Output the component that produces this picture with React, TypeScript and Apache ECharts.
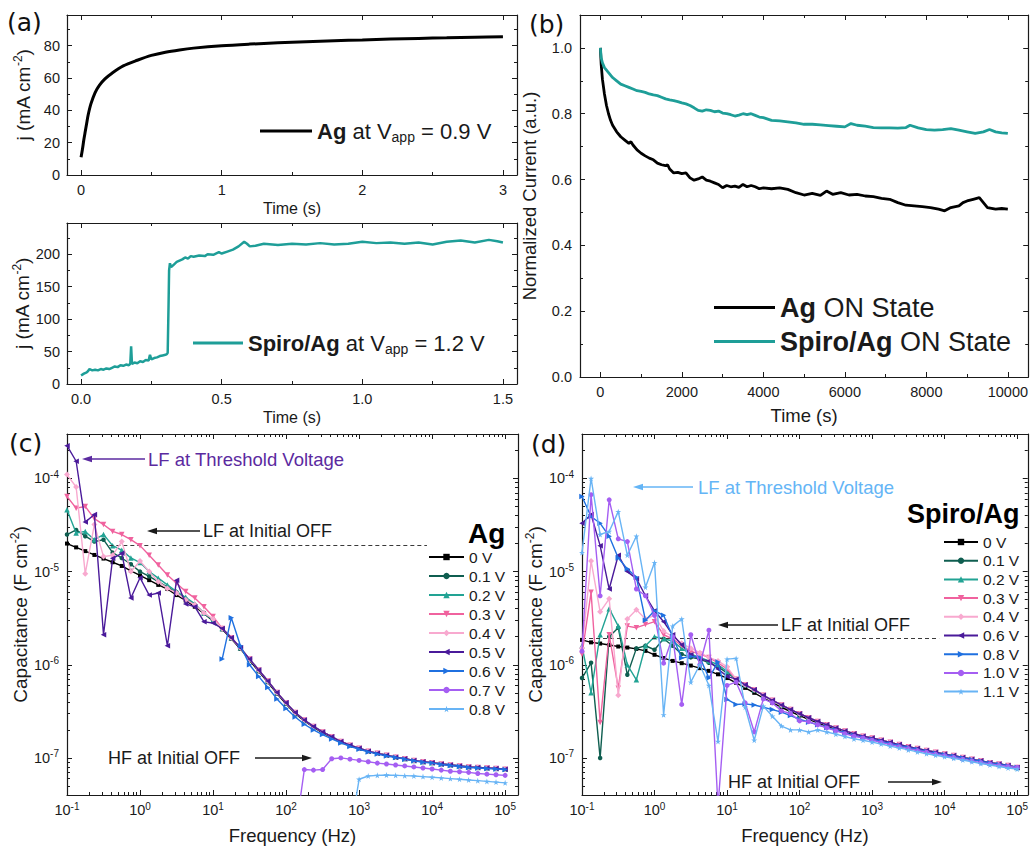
import React, { useEffect, useRef } from 'react';
import * as echarts from 'echarts';

// ---------------- (a) transient current density ----------------
const agTime = [0, 0.005, 0.01, 0.02, 0.03, 0.04, 0.05, 0.07, 0.1, 0.13, 0.17, 0.22, 0.3, 0.4, 0.5, 0.6, 0.7, 0.8, 1.0, 1.2, 1.4, 1.6, 1.8, 2.0, 2.2, 2.4, 2.6, 2.8, 3.0];
const agJ = [11, 13.5, 16, 22, 27, 32, 37, 44, 51, 55.5, 59.5, 63, 67.5, 71, 74, 76, 77.4, 78.5, 80, 81, 81.8, 82.5, 83.1, 83.6, 84.1, 84.5, 84.9, 85.3, 85.6];

const spiroTime = [0, 0.01, 0.02, 0.025, 0.03, 0.04, 0.05, 0.06, 0.07, 0.08, 0.09, 0.1, 0.11, 0.12, 0.13, 0.14, 0.15, 0.16, 0.17, 0.175, 0.178, 0.181, 0.19, 0.2, 0.21, 0.22, 0.23, 0.24, 0.245, 0.25, 0.26, 0.27, 0.28, 0.29, 0.3, 0.305, 0.308, 0.311, 0.313, 0.316, 0.32, 0.33, 0.34, 0.35, 0.36, 0.37, 0.38, 0.39, 0.4, 0.42, 0.44, 0.45, 0.47, 0.49, 0.5, 0.52, 0.54, 0.56, 0.58, 0.59, 0.6, 0.62, 0.65, 0.7, 0.75, 0.8, 0.85, 0.9, 0.95, 1.0, 1.05, 1.1, 1.15, 1.2, 1.25, 1.3, 1.35, 1.4, 1.45, 1.48, 1.5];
const spiroJ = [13, 16, 18, 20, 23, 21, 22, 21, 23, 22, 24, 23, 25, 27, 26, 29, 28, 30, 29, 31, 58, 31, 33, 32, 35, 34, 37, 36, 45, 38, 40, 41, 43, 44, 45, 46, 48, 120, 175, 186, 180, 184, 188, 190, 192, 195, 193, 197, 196, 198, 197, 200, 199, 203, 201, 204, 207, 212, 219, 216, 212, 213, 216, 214, 216, 215, 217, 215, 216, 219, 217, 218, 216, 218, 215, 219, 221, 218, 222, 220, 218];

// ---------------- (b) ON-state retention ----------------
const agOnTime = [0, 20, 50, 100, 150, 200, 250, 300, 400, 500, 600, 700, 750, 800, 900, 1000, 1100, 1200, 1300, 1400, 1500, 1600, 1650, 1700, 1800, 1900, 2000, 2100, 2200, 2300, 2400, 2500, 2600, 2700, 2800, 2900, 3000, 3100, 3200, 3300, 3400, 3500, 3600, 3700, 3800, 3900, 4000, 4200, 4400, 4600, 4800, 5000, 5200, 5400, 5550, 5700, 5900, 6100, 6300, 6500, 6700, 6900, 7100, 7300, 7500, 7700, 7900, 8100, 8300, 8450, 8600, 8800, 8900, 9000, 9150, 9300, 9400, 9500, 9700, 9850, 10000];
const agOnCurrent = [1.0, 0.95, 0.905, 0.86, 0.825, 0.80, 0.78, 0.765, 0.745, 0.73, 0.72, 0.71, 0.715, 0.705, 0.69, 0.68, 0.672, 0.665, 0.66, 0.65, 0.645, 0.642, 0.645, 0.632, 0.62, 0.622, 0.618, 0.62, 0.605, 0.598, 0.602, 0.608, 0.598, 0.595, 0.59, 0.585, 0.575, 0.582, 0.578, 0.58, 0.576, 0.585, 0.578, 0.582, 0.578, 0.572, 0.575, 0.572, 0.575, 0.57, 0.56, 0.553, 0.558, 0.552, 0.565, 0.555, 0.56, 0.553, 0.555, 0.55, 0.548, 0.543, 0.54, 0.53, 0.522, 0.52, 0.518, 0.515, 0.51, 0.505, 0.515, 0.52, 0.53, 0.535, 0.54, 0.545, 0.53, 0.515, 0.51, 0.512, 0.51];
const spiroOnTime = [0, 20, 50, 100, 200, 300, 400, 500, 600, 700, 800, 900, 1000, 1100, 1200, 1300, 1400, 1500, 1600, 1700, 1800, 1900, 2000, 2100, 2200, 2300, 2400, 2500, 2600, 2700, 2800, 2900, 3000, 3100, 3200, 3300, 3400, 3500, 3600, 3700, 3800, 3900, 4000, 4200, 4400, 4600, 4800, 5000, 5200, 5400, 5600, 5800, 6000, 6150, 6300, 6500, 6700, 6900, 7100, 7300, 7500, 7600, 7800, 8000, 8200, 8400, 8600, 8800, 9000, 9200, 9400, 9550, 9700, 9850, 10000];
const spiroOnCurrent = [1.0, 0.97, 0.955, 0.94, 0.925, 0.91, 0.9, 0.89, 0.885, 0.88, 0.875, 0.87, 0.868, 0.865, 0.86, 0.857, 0.855, 0.85, 0.845, 0.842, 0.84, 0.837, 0.833, 0.83, 0.825, 0.818, 0.81, 0.808, 0.812, 0.81, 0.806, 0.808, 0.802, 0.80, 0.797, 0.793, 0.796, 0.80, 0.797, 0.80, 0.795, 0.79, 0.788, 0.78, 0.778, 0.775, 0.772, 0.768, 0.768, 0.766, 0.764, 0.762, 0.76, 0.77, 0.765, 0.762, 0.758, 0.757, 0.757, 0.756, 0.758, 0.765, 0.757, 0.752, 0.75, 0.752, 0.755, 0.75, 0.745, 0.74, 0.745, 0.752, 0.745, 0.742, 0.74];

// ---------------- (c)/(d) capacitance vs frequency ----------------
const freqHz = [0.1, 0.1334, 0.1778, 0.2371, 0.3162, 0.4217, 0.5623, 0.7499, 1, 1.334, 1.778, 2.371, 3.162, 4.217, 5.623, 7.499, 10, 13.34, 17.78, 23.71, 31.62, 42.17, 56.23, 74.99, 100, 133.4, 177.8, 237.1, 316.2, 421.7, 562.3, 749.9, 1000, 1334, 1778, 2371, 3162, 4217, 5623, 7499, 10000, 13340, 17780, 23710, 31620, 42170, 56230, 74990, 100000];

// (c) Ag
const capAg0 = [2.0e-5, 1.82e-5, 1.66e-5, 1.51e-5, 1.38e-5, 1.26e-5, 1.15e-5, 1.02e-5, 9.1e-6, 8.1e-6, 7.2e-6, 6.5e-6, 5.6e-6, 4.9e-6, 4.2e-6, 3.55e-6, 2.95e-6, 2.4e-6, 1.9e-6, 1.48e-6, 1.12e-6, 8.5e-7, 6.5e-7, 4.9e-7, 3.8e-7, 3.0e-7, 2.5e-7, 2.14e-7, 1.86e-7, 1.66e-7, 1.48e-7, 1.35e-7, 1.26e-7, 1.17e-7, 1.12e-7, 1.07e-7, 1.02e-7, 9.8e-8, 9.3e-8, 9.1e-8, 8.9e-8, 8.6e-8, 8.4e-8, 8.2e-8, 8.0e-8, 7.9e-8, 7.8e-8, 7.7e-8, 7.6e-8];
const capAgTail = [2.45e-6, 1.95e-6, 1.52e-6, 1.15e-6, 8.8e-7, 6.7e-7, 5.05e-7, 3.9e-7, 3.08e-7, 2.55e-7, 2.18e-7, 1.9e-7, 1.69e-7, 1.5e-7, 1.37e-7, 1.27e-7, 1.18e-7, 1.12e-7, 1.07e-7, 1.02e-7, 9.8e-8, 9.4e-8, 9.1e-8, 8.9e-8, 8.6e-8, 8.4e-8, 8.2e-8, 8.0e-8, 7.9e-8, 7.8e-8, 7.7e-8, 7.55e-8];
const capAg01Low = [2.5e-5, 2.8e-5, 2.4e-5, 2.1e-5, 2.2e-5, 1.6e-5, 1.4e-5, 1.2e-5, 1.0e-5, 8.9e-6, 7.8e-6, 6.8e-6, 6.0e-6, 5.1e-6, 4.4e-6, 3.6e-6, 3.0e-6];
const capAg02Low = [4.6e-5, 2.6e-5, 2.7e-5, 2.2e-5, 2.5e-5, 1.9e-5, 1.7e-5, 1.4e-5, 1.25e-5, 1.0e-5, 8.5e-6, 7.2e-6, 6.1e-6, 5.3e-6, 4.5e-6, 3.6e-6, 3.0e-6];
const capAg03Low = [6.4e-5, 4.8e-5, 5.0e-5, 3.7e-5, 3.2e-5, 2.7e-5, 2.5e-5, 2.2e-5, 1.9e-5, 1.5e-5, 1.18e-5, 9.2e-6, 7.5e-6, 6.1e-6, 5.2e-6, 4.2e-6, 3.3e-6];
const capAg04Low = [1.1e-4, 8.1e-5, 9.5e-6, 3.2e-5, 1.45e-5, 1.5e-5, 2.1e-5, 1.0e-5, 1.3e-5, 1.0e-5, 7.8e-6, 6.6e-6, 5.9e-6, 5.0e-6, 4.4e-6, 3.6e-6, 3.1e-6];
const capAg05Low = [2.25e-4, 1.53e-4, 3.4e-5, 4.1e-5, 2.1e-6, 1.39e-5, 1.57e-5, 5.2e-6, 8.6e-6, 5.6e-6, 5.9e-6, 1.6e-6, 8.1e-6, 4.5e-6, 4.2e-6, 2.9e-6, 2.8e-6];
const capAg06 = [null, null, null, null, null, null, null, null, null, null, null, null, null, null, null, null, null,
  1.15e-6, 3.2e-6, 1.6e-6, 1.0e-6, 7.5e-7, 5.7e-7, 4.3e-7, 3.4e-7, 2.75e-7, 2.3e-7, 2.0e-7, 1.78e-7, 1.6e-7, 1.45e-7, 1.33e-7, 1.24e-7, 1.16e-7, 1.1e-7, 1.05e-7, 1.01e-7, 9.7e-8, 9.3e-8, 9.0e-8, 8.8e-8, 8.5e-8, 8.3e-8, 8.1e-8, 7.9e-8, 7.8e-8, 7.7e-8, 7.6e-8, 7.5e-8];
const capAg07 = [null, null, null, null, null, null, null, null, null, null, null, null, null, null, null, null, null, null, null, null, null, null, null, null, null,
  1.5e-8, 7.5e-8, 7.4e-8, 7.5e-8, 9.8e-8, 1.0e-7, 9.7e-8, 9.4e-8, 9.1e-8, 8.8e-8, 8.6e-8, 8.4e-8, 8.2e-8, 8.0e-8, 7.8e-8, 7.6e-8, 7.4e-8, 7.2e-8, 7.1e-8, 7.0e-8, 6.8e-8, 6.7e-8, 6.6e-8, 6.5e-8];
const capAg08 = [null, null, null, null, null, null, null, null, null, null, null, null, null, null, null, null, null, null, null, null, null, null, null, null, null, null, null, null, null, null, null,
  1.5e-8, 5.9e-8, 6.4e-8, 6.5e-8, 6.55e-8, 6.5e-8, 6.45e-8, 6.4e-8, 6.3e-8, 6.2e-8, 6.1e-8, 6.0e-8, 5.9e-8, 5.8e-8, 5.7e-8, 5.6e-8, 5.5e-8, 5.4e-8];

// (d) Spiro/Ag
const capSp0 = [1.85e-6, 1.74e-6, 1.69e-6, 1.63e-6, 1.57e-6, 1.53e-6, 1.48e-6, 1.41e-6, 1.28e-6, 1.18e-6, 1.1e-6, 1.04e-6, 9.8e-7, 9.2e-7, 8.6e-7, 7.9e-7, 7.2e-7, 6.4e-7, 5.65e-7, 5.0e-7, 4.4e-7, 3.9e-7, 3.5e-7, 3.15e-7, 2.85e-7, 2.6e-7, 2.38e-7, 2.2e-7, 2.05e-7, 1.9e-7, 1.78e-7, 1.68e-7, 1.62e-7, 1.53e-7, 1.45e-7, 1.38e-7, 1.31e-7, 1.25e-7, 1.19e-7, 1.14e-7, 1.1e-7, 1.05e-7, 1.01e-7, 9.7e-8, 9.3e-8, 8.9e-8, 8.6e-8, 8.3e-8, 7.9e-8];
const capSpTail = [7.0e-7, 6.1e-7, 5.4e-7, 4.7e-7, 4.15e-7, 3.7e-7, 3.3e-7, 2.98e-7, 2.7e-7, 2.46e-7, 2.27e-7, 2.1e-7, 1.95e-7, 1.82e-7, 1.71e-7, 1.64e-7, 1.55e-7, 1.47e-7, 1.39e-7, 1.32e-7, 1.26e-7, 1.2e-7, 1.15e-7, 1.1e-7, 1.06e-7, 1.01e-7, 9.7e-8, 9.3e-8, 8.9e-8, 8.6e-8, 8.3e-8, 7.9e-8];
const capSp01Low = [7.2e-7, 1.05e-6, 1.0e-7, 2.0e-6, 2.5e-6, 7.8e-7, 1.5e-6, 1.6e-6, 1.45e-6, 1.9e-6, 1.6e-6, 1.3e-6, 1.2e-6, 1.15e-6, 1.05e-6, 9.5e-7, 8.2e-7];
const capSp02Low = [1.6e-6, 5.0e-7, 2.1e-6, 4.0e-6, 2.6e-6, 1.0e-6, 6.9e-7, 1.6e-6, 2.0e-6, 1.9e-6, 1.8e-6, 1.5e-6, 1.3e-6, 1.2e-6, 1.1e-6, 1.0e-6, 8.5e-7];
const capSp03Low = [1.3e-6, 6.0e-6, 2.4e-7, 2.1e-6, 5.6e-7, 2.6e-6, 2.5e-6, 2.7e-6, 2.9e-6, 2.1e-6, 1.9e-6, 1.6e-6, 1.4e-6, 1.3e-6, 1.2e-6, 1.05e-6, 9.0e-7];
const capSp04Low = [1.5e-6, 1.3e-5, 3.7e-6, 5.1e-6, 4.7e-7, 3.1e-6, 3.9e-6, 3.1e-6, 3.4e-6, 2.3e-6, 2.0e-6, 1.7e-6, 1.5e-6, 1.35e-6, 1.2e-6, 1.1e-6, 9.5e-7];
const capSp06Low = [3.3e-5, 4.1e-5, 1.9e-5, 6.5e-6, 1.5e-5, 1.0e-5, 8.4e-6, 5.5e-6, 3.8e-6, 2.9e-6, 2.1e-6, 1.64e-6, 1.28e-6, 1.15e-6, 1.1e-6, 9.0e-7, 7.5e-7];
const capSp08Low = [6.4e-5, 3.9e-5, 3.3e-5, 2.4e-5, 1.4e-5, 1.07e-5, 8.7e-6, 3.0e-6, 3.8e-6, 3.4e-6, 2.0e-6, 1.18e-6, 1.23e-6, 1.2e-6, 7.2e-7, 1.07e-6, 4.25e-7];
const capSp08High = [3.75e-7, 3.8e-7, 3.7e-7, 3.5e-7, 3.3e-7, 3.1e-7, 2.85e-7, 2.6e-7, 2.42e-7, 2.27e-7, 2.12e-7, 1.98e-7, 1.85e-7, 1.74e-7, 1.65e-7, 1.58e-7, 1.5e-7, 1.42e-7, 1.35e-7, 1.29e-7, 1.23e-7, 1.17e-7, 1.12e-7, 1.08e-7, 1.04e-7, 1.0e-7, 9.6e-8, 9.2e-8, 8.8e-8, 8.5e-8, 8.2e-8, 7.9e-8];
const capSp10Low = [1.4e-6, 6.7e-5, 5.5e-6, 5.9e-5, 2.25e-5, 2.1e-5, 6.5e-6, 5.5e-6, 3.4e-6, 1.04e-6, 2.0e-6, 3.75e-7, 2.1e-6, 1.0e-6, 2.35e-6, 3.0e-8, 6.0e-7];
const capSp10High = [6.5e-7, 3.9e-7, 1.9e-7, 4.3e-7, 3.9e-7, 3.2e-7, 3.0e-7, 2.5e-7, 2.45e-7, 2.27e-7, 2.1e-7, 1.95e-7, 1.82e-7, 1.71e-7, 1.64e-7, 1.55e-7, 1.47e-7, 1.39e-7, 1.32e-7, 1.26e-7, 1.2e-7, 1.15e-7, 1.1e-7, 1.06e-7, 1.01e-7, 9.7e-8, 9.3e-8, 8.9e-8, 8.6e-8, 8.3e-8, 8.1e-8, 7.9e-8];
const capSp11Low = [1.6e-5, 1.0e-4, 2.5e-5, 2.7e-5, 4.4e-5, 1.5e-5, 2.4e-5, 6.8e-6, 1.25e-5, 2.9e-7, 2.6e-6, 3.1e-6, 6.5e-7, 1.0e-6, 6.0e-7, 1.5e-7, 1.15e-6];
const capSp11High = [1.17e-6, 3.5e-7, 1.55e-7, 3.6e-7, 2.8e-7, 2.2e-7, 2.0e-7, 2.0e-7, 1.9e-7, 2.0e-7, 1.9e-7, 1.8e-7, 1.7e-7, 1.6e-7, 1.55e-7, 1.48e-7, 1.41e-7, 1.34e-7, 1.28e-7, 1.22e-7, 1.16e-7, 1.11e-7, 1.07e-7, 1.03e-7, 9.9e-8, 9.5e-8, 9.1e-8, 8.7e-8, 8.4e-8, 8.1e-8, 7.8e-8, 7.6e-8];

// reference levels
const agThresholdC = 2.24e-4;
const agInitialLF = 1.9e-5;
const agInitialHF = 7.6e-8;
const spThresholdC = 1.0e-4;
const spInitialLF = 1.92e-6;
const spInitialHF = 7.8e-8;

const agVoltLabels = ['0 V', '0.1 V', '0.2 V', '0.3 V', '0.4 V', '0.5 V', '0.6 V', '0.7 V', '0.8 V'];
const spVoltLabels = ['0 V', '0.1 V', '0.2 V', '0.3 V', '0.4 V', '0.6 V', '0.8 V', '1.0 V', '1.1 V'];

const agCapSets = [
  capAg0,
  [...capAg01Low, ...capAgTail],
  [...capAg02Low, ...capAgTail],
  [...capAg03Low, ...capAgTail],
  [...capAg04Low, ...capAgTail],
  [...capAg05Low, ...capAgTail],
  capAg06,
  capAg07,
  capAg08,
];
const spCapSets = [
  capSp0,
  [...capSp01Low, ...capSpTail],
  [...capSp02Low, ...capSpTail],
  [...capSp03Low, ...capSpTail],
  [...capSp04Low, ...capSpTail],
  [...capSp06Low, ...capSpTail],
  [...capSp08Low, ...capSp08High],
  [...capSp10Low, ...capSp10High],
  [...capSp11Low, ...capSp11High],
];

// ---------------- styles ----------------
const INK = '#1a1a1a';
const FONT = '"Liberation Sans", Arial, Helvetica, sans-serif';
const LABEL_FONT = '"DejaVu Sans", Verdana, sans-serif';
const TEAL = '#1e9e98';
const STAR = 'path://M50,2 L61,38 L98,38 L68,60 L79,96 L50,74 L21,96 L32,60 L2,38 L39,38 Z';

const C_BLACK = '#000000';
const C_DKGREEN = '#0f5e50';
const C_TEAL = '#22a394';
const C_PINK = '#f0629e';
const C_LTPINK = '#f8a9cf';
const C_DKPURPLE = '#4a1a9a';
const C_BLUE = '#1f70e0';
const C_PURPLE = '#a55ef2';
const C_LTBLUE = '#68b4f5';

type MarkStyle = { color: string; symbol: string; size: number; rotate: number };
const capMarks: MarkStyle[] = [
  { color: C_BLACK, symbol: 'rect', size: 4, rotate: 0 },
  { color: C_DKGREEN, symbol: 'circle', size: 4.5, rotate: 0 },
  { color: C_TEAL, symbol: 'triangle', size: 5.5, rotate: 0 },
  { color: C_PINK, symbol: 'triangle', size: 5.5, rotate: 180 },
  { color: C_LTPINK, symbol: 'diamond', size: 6, rotate: 0 },
  { color: C_DKPURPLE, symbol: 'triangle', size: 5.5, rotate: 90 },
  { color: C_BLUE, symbol: 'triangle', size: 5.5, rotate: -90 },
  { color: C_PURPLE, symbol: 'circle', size: 5, rotate: 0 },
  { color: C_LTBLUE, symbol: STAR, size: 6, rotate: 0 },
];

const pairs = (xs: number[], ys: (number | null)[]) => xs.map((x, i) => [x, ys[i] == null ? null : ys[i]]);

const powLabel = (v: number) => {
  const lg = Math.log10(v);
  const e = Math.round(lg);
  if (Math.abs(lg - e) > 1e-6) return '';
  return `10{sup|${e}}`;
};

const supRich = (size: number) => ({
  sup: { fontSize: size, fontFamily: FONT, color: INK, padding: [0, 0, Math.round(size * 0.8), 0] },
});

function frameAxis(base: any, labelled: boolean, minorSplit: number, label: any = {}) {
  return {
    ...base,
    axisLine: { show: true, onZero: false, lineStyle: { color: INK, width: 1.2 } },
    axisTick: { show: true, inside: true, length: 5, lineStyle: { color: INK, width: 1 } },
    minorTick: { show: true, splitNumber: minorSplit, length: 3, lineStyle: { color: INK, width: 1 } },
    splitLine: { show: false },
    minorSplitLine: { show: false },
    axisLabel: labelled
      ? { show: true, color: INK, fontFamily: FONT, fontSize: 14.5, ...label }
      : { show: false },
  };
}

const nameStyle = (size: number, extra: any = {}) => ({
  fontSize: size,
  fontFamily: FONT,
  color: INK,
  rich: supRich(Math.round(size * 0.65)),
  ...extra,
});

function txt(text: string, x: number, y: number, size: number, color = INK, opts: any = {}) {
  return {
    type: 'text',
    x,
    y,
    z: 100,
    silent: true,
    style: {
      text,
      fill: color,
      fontSize: size,
      fontFamily: opts.fontFamily || FONT,
      fontWeight: opts.fontWeight || 'normal',
      align: 'left',
      verticalAlign: 'middle',
    },
  };
}

function arrow(xFrom: number, xTo: number, y: number, color: string) {
  const dir = xTo > xFrom ? 1 : -1;
  return [
    {
      type: 'line',
      z: 100,
      silent: true,
      shape: { x1: xFrom, y1: y, x2: xTo - dir * 6, y2: y },
      style: { stroke: color, lineWidth: 1.3 },
    },
    {
      type: 'polygon',
      z: 100,
      silent: true,
      shape: { points: [[xTo, y], [xTo - dir * 10, y - 3.2], [xTo - dir * 10, y + 3.2]] },
      style: { fill: color },
    },
  ];
}

function buildOption() {
  const xAxis: any[] = [];
  const yAxis: any[] = [];

  // (a) top
  const aTopX = { type: 'value', gridIndex: 0, min: -0.1, max: 3.1, splitNumber: 3 };
  xAxis.push({
    ...frameAxis({ ...aTopX, position: 'bottom' }, true, 2, { margin: 7, showMinLabel: false, showMaxLabel: false, formatter: (v: number) => String(v) }),
    name: 'Time (s)', nameLocation: 'middle', nameGap: 25, nameTextStyle: nameStyle(16),
  });
  xAxis.push(frameAxis({ ...aTopX, position: 'top' }, false, 2));
  const aTopY = { type: 'value', gridIndex: 0, min: 0, max: 99, splitNumber: 5 };
  yAxis.push({
    ...frameAxis({ ...aTopY, position: 'left' }, true, 2, { margin: 7, showMaxLabel: false, formatter: (v: number) => String(v) }),
    name: 'j (mA cm{sup|-2})', nameLocation: 'middle', nameGap: 33, nameTextStyle: nameStyle(19),
  });
  yAxis.push(frameAxis({ ...aTopY, position: 'right' }, false, 2));

  // (a) bottom
  const aBotX = { type: 'value', gridIndex: 1, min: -0.05, max: 1.55, splitNumber: 3 };
  xAxis.push({
    ...frameAxis({ ...aBotX, position: 'bottom' }, true, 2, { margin: 7, showMinLabel: false, showMaxLabel: false, formatter: (v: number) => v.toFixed(1) }),
    name: 'Time (s)', nameLocation: 'middle', nameGap: 25, nameTextStyle: nameStyle(16),
  });
  xAxis.push(frameAxis({ ...aBotX, position: 'top' }, false, 2));
  const aBotY = { type: 'value', gridIndex: 1, min: 0, max: 248, splitNumber: 5 };
  yAxis.push({
    ...frameAxis({ ...aBotY, position: 'left' }, true, 2, { margin: 7, showMaxLabel: false, formatter: (v: number) => String(v) }),
    name: 'j (mA cm{sup|-2})', nameLocation: 'middle', nameGap: 33, nameTextStyle: nameStyle(19),
  });
  yAxis.push(frameAxis({ ...aBotY, position: 'right' }, false, 2));

  // (b)
  const bX = { type: 'value', gridIndex: 2, min: -500, max: 10500, splitNumber: 5 };
  xAxis.push({
    ...frameAxis({ ...bX, position: 'bottom' }, true, 2, { margin: 7, showMinLabel: false, showMaxLabel: false, formatter: (v: number) => String(v) }),
    name: 'Time (s)', nameLocation: 'middle', nameGap: 29, nameTextStyle: nameStyle(18.5),
  });
  xAxis.push(frameAxis({ ...bX, position: 'top' }, false, 2));
  const bY = { type: 'value', gridIndex: 2, min: 0, max: 1.1, splitNumber: 5 };
  yAxis.push({
    ...frameAxis({ ...bY, position: 'left' }, true, 2, { margin: 8, showMaxLabel: false, formatter: (v: number) => v.toFixed(1) }),
    name: 'Normalized Current (a.u.)', nameLocation: 'middle', nameGap: 41, nameTextStyle: nameStyle(18.5),
  });
  yAxis.push(frameAxis({ ...bY, position: 'right' }, false, 2));

  // (c)
  const logLabel = { formatter: powLabel, rich: supRich(10), showMinLabel: true, showMaxLabel: true };
  const cX = { type: 'log', logBase: 10, gridIndex: 3, min: 0.1, max: 1.5e5 };
  xAxis.push({
    ...frameAxis({ ...cX, position: 'bottom' }, true, 9, { margin: 6, ...logLabel }),
    name: 'Frequency (Hz)', nameLocation: 'middle', nameGap: 31, nameTextStyle: nameStyle(18.5),
  });
  xAxis.push(frameAxis({ ...cX, position: 'top' }, false, 9));
  const cY = { type: 'log', logBase: 10, gridIndex: 3, min: 4e-8, max: 3e-4 };
  yAxis.push({
    ...frameAxis({ ...cY, position: 'left' }, true, 9, { margin: 8, ...logLabel }),
    name: 'Capacitance (F cm{sup|-2})', nameLocation: 'middle', nameGap: 36, nameTextStyle: nameStyle(19),
  });
  yAxis.push(frameAxis({ ...cY, position: 'right' }, false, 9));

  // (d)
  const dX = { type: 'log', logBase: 10, gridIndex: 4, min: 0.1, max: 1.4e5 };
  xAxis.push({
    ...frameAxis({ ...dX, position: 'bottom' }, true, 9, { margin: 6, ...logLabel }),
    name: 'Frequency (Hz)', nameLocation: 'middle', nameGap: 31, nameTextStyle: nameStyle(18.5),
  });
  xAxis.push(frameAxis({ ...dX, position: 'top' }, false, 9));
  const dY = { type: 'log', logBase: 10, gridIndex: 4, min: 4e-8, max: 3e-4 };
  yAxis.push({
    ...frameAxis({ ...dY, position: 'left' }, true, 9, { margin: 8, ...logLabel }),
    name: 'Capacitance (F cm{sup|-2})', nameLocation: 'middle', nameGap: 36, nameTextStyle: nameStyle(19),
  });
  yAxis.push(frameAxis({ ...dY, position: 'right' }, false, 9));

  const series: any[] = [
    {
      type: 'line', name: 'Ag at Vapp = 0.9 V', xAxisIndex: 0, yAxisIndex: 0,
      data: pairs(agTime, agJ), symbol: 'none', smooth: 0.3,
      lineStyle: { color: '#000', width: 3 }, itemStyle: { color: '#000' },
    },
    {
      type: 'line', name: 'Spiro/Ag at Vapp = 1.2 V', xAxisIndex: 2, yAxisIndex: 2,
      data: pairs(spiroTime, spiroJ), symbol: 'none',
      lineStyle: { color: TEAL, width: 2.5 }, itemStyle: { color: TEAL },
    },
    {
      type: 'line', name: 'Ag ON State', xAxisIndex: 4, yAxisIndex: 4,
      data: pairs(agOnTime, agOnCurrent), symbol: 'none',
      lineStyle: { color: '#000', width: 2.8 }, itemStyle: { color: '#000' },
    },
    {
      type: 'line', name: 'Spiro/Ag ON State', xAxisIndex: 4, yAxisIndex: 4,
      data: pairs(spiroOnTime, spiroOnCurrent), symbol: 'none',
      lineStyle: { color: TEAL, width: 2.8 }, itemStyle: { color: TEAL },
    },
  ];

  const dashed = { type: [4, 3], width: 1, color: '#3a3a3a' };

  agCapSets.forEach((vals, i) => {
    const m = capMarks[i];
    const s: any = {
      type: 'line', name: 'Ag ' + agVoltLabels[i], xAxisIndex: 6, yAxisIndex: 6,
      data: pairs(freqHz, vals as (number | null)[]),
      symbol: m.symbol, symbolSize: m.size, symbolRotate: m.rotate, showAllSymbol: true,
      lineStyle: { color: m.color, width: 1.4 }, itemStyle: { color: m.color }, z: 2 + i,
    };
    if (i === 0) {
      s.markLine = {
        silent: true, symbol: ['none', 'none'], label: { show: false }, lineStyle: dashed,
        data: [
          { yAxis: agThresholdC, lineStyle: { color: '#8b63d4', type: [4, 3], width: 1 } },
          { yAxis: agInitialHF },
          [{ coord: [0.38, agInitialLF] }, { coord: [8500, agInitialLF] }],
        ],
      };
    }
    series.push(s);
  });

  spCapSets.forEach((vals, i) => {
    const m = capMarks[i];
    const s: any = {
      type: 'line', name: 'Spiro ' + spVoltLabels[i], xAxisIndex: 8, yAxisIndex: 8,
      data: pairs(freqHz, vals as (number | null)[]),
      symbol: m.symbol, symbolSize: m.size, symbolRotate: m.rotate, showAllSymbol: true,
      lineStyle: { color: m.color, width: 1.4 }, itemStyle: { color: m.color }, z: 2 + i,
    };
    if (i === 0) {
      s.markLine = {
        silent: true, symbol: ['none', 'none'], label: { show: false }, lineStyle: dashed,
        data: [
          { yAxis: spThresholdC, lineStyle: { color: '#6cb6f6', type: [4, 3], width: 1 } },
          { yAxis: spInitialHF },
          [{ coord: [0.1, spInitialLF] }, { coord: [8400, spInitialLF] }],
        ],
      };
    }
    series.push(s);
  });

  const legendText = (size: number) => ({
    fontSize: size, fontFamily: FONT, color: INK,
    rich: {
      b: { fontSize: size, fontFamily: FONT, color: INK, fontWeight: 'bold' },
      s: { fontSize: Math.round(size * 0.65), fontFamily: FONT, color: INK, padding: [Math.round(size * 0.5), 0, 0, 0] },
    },
  });

  const legend: any[] = [
    {
      data: ['Ag at Vapp = 0.9 V'], left: 260, top: 120, padding: 0, orient: 'vertical', selectedMode: false,
      icon: 'rect', itemWidth: 52, itemHeight: 3, itemStyle: { color: '#000' },
      formatter: () => '{b|Ag} at V{s|app} = 0.9 V', textStyle: legendText(22),
    },
    {
      data: ['Spiro/Ag at Vapp = 1.2 V'], left: 193, top: 332, padding: 0, orient: 'vertical', selectedMode: false,
      icon: 'rect', itemWidth: 50, itemHeight: 3, itemStyle: { color: TEAL },
      formatter: () => '{b|Spiro/Ag} at V{s|app} = 1.2 V', textStyle: legendText(22),
    },
    {
      data: ['Ag ON State', 'Spiro/Ag ON State'], left: 714, top: 292, padding: 0, orient: 'vertical', selectedMode: false,
      icon: 'rect', itemWidth: 61, itemHeight: 3, itemGap: 3,
      formatter: (n: string) => (n === 'Ag ON State' ? '{b|Ag} ON State' : '{b|Spiro/Ag} ON State'),
      textStyle: { ...legendText(27), lineHeight: 31 },
    },
    {
      data: agVoltLabels.map((l) => 'Ag ' + l), left: 428, top: 549, padding: 0, orient: 'vertical', selectedMode: false,
      itemWidth: 35, itemHeight: 8, itemGap: 3,
      formatter: (n: string) => n.replace(/^Ag /, ''),
      textStyle: { fontSize: 15.5, fontFamily: FONT, color: INK, lineHeight: 16 },
    },
    {
      data: spVoltLabels.map((l) => 'Spiro ' + l), left: 943, top: 534, padding: 0, orient: 'vertical', selectedMode: false,
      itemWidth: 34, itemHeight: 8, itemGap: 2.7,
      formatter: (n: string) => n.replace(/^Spiro /, ''),
      textStyle: { fontSize: 15.5, fontFamily: FONT, color: INK, lineHeight: 16 },
    },
  ];

  const AG_PURPLE_TXT = '#5b2aa0';
  const SP_BLUE_TXT = '#64b5f6';
  const graphic: any[] = [
    txt('(a)', 7, 22, 25, '#111', { fontFamily: LABEL_FONT }),
    txt('(b)', 529, 24, 25, '#111', { fontFamily: LABEL_FONT }),
    txt('(c)', 9, 443, 25, '#111', { fontFamily: LABEL_FONT }),
    txt('(d)', 531, 444, 25, '#111', { fontFamily: LABEL_FONT }),

    txt('LF at Threshold Voltage', 148, 459, 18.5, AG_PURPLE_TXT),
    ...arrow(145, 82, 459, AG_PURPLE_TXT),
    txt('LF at Initial OFF', 203, 531, 18, INK),
    ...arrow(200, 147, 531, INK),
    txt('HF at Initial OFF', 108, 758, 18, INK),
    ...arrow(255, 312, 758, INK),
    txt('Ag', 468, 533, 28, '#000', { fontWeight: 'bold' }),

    txt('LF at Threshold Voltage', 698, 487, 18.5, SP_BLUE_TXT),
    ...arrow(693, 633, 487, SP_BLUE_TXT),
    txt('LF at Initial OFF', 781, 625, 18, INK),
    ...arrow(778, 718, 625, INK),
    txt('HF at Initial OFF', 728, 782, 18, INK),
    ...arrow(888, 942, 782, INK),
    txt('Spiro/Ag', 907, 514, 27, '#000', { fontWeight: 'bold' }),
  ];

  return {
    animation: false,
    backgroundColor: '#ffffff',
    textStyle: { fontFamily: FONT },
    grid: [
      { left: 67, top: 15, width: 450, height: 160 },
      { left: 67, top: 223, width: 450, height: 161 },
      { left: 580, top: 15, width: 450, height: 362 },
      { left: 67, top: 434, width: 451, height: 361 },
      { left: 582, top: 434, width: 447, height: 361 },
    ],
    xAxis,
    yAxis,
    legend,
    series,
    graphic,
  };
}

export default function App() {
  const ref = useRef<HTMLDivElement>(null);
  useEffect(() => {
    if (!ref.current) return;
    const chart = echarts.init(ref.current, null, { renderer: 'svg' });
    chart.setOption(buildOption() as any);
    return () => chart.dispose();
  }, []);
  return (
    <div
      ref={ref}
      style={{ position: 'absolute', left: 0, top: 0, width: 1031, height: 849, background: '#fff' }}
    />
  );
}
